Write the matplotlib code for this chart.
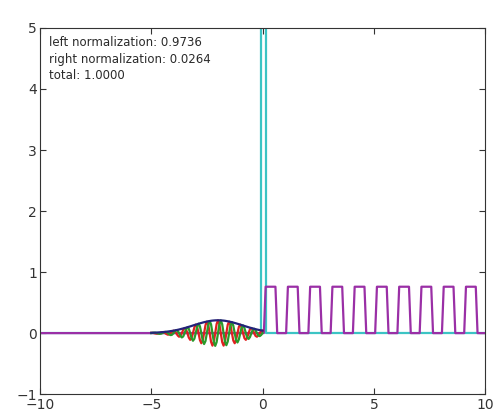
"""
wave packet hitting a thin barrier: psi(x) real/imag/abs, potential, transmitted part
"""

import numpy as np
import matplotlib.pyplot as plt

# sampling grid for the packet (step 1/16)
x_packet = np.arange(-5.0, 0.001, 0.0625)

# |psi|
psi_abs = [0.005, 0.006, 0.007, 0.008, 0.009, 0.011, 0.012, 0.014,
           0.016, 0.018, 0.020, 0.023, 0.026, 0.029, 0.033, 0.036,
           0.040, 0.045, 0.049, 0.054, 0.059, 0.065, 0.071, 0.077,
           0.083, 0.089, 0.096, 0.103, 0.110, 0.117, 0.125, 0.132,
           0.139, 0.146, 0.153, 0.160, 0.166, 0.173, 0.179, 0.184,
           0.189, 0.194, 0.198, 0.202, 0.205, 0.207, 0.209, 0.210,
           0.210,
           0.210, 0.209, 0.207, 0.205, 0.202, 0.198, 0.194, 0.189,
           0.184, 0.179, 0.173, 0.166, 0.160, 0.153, 0.146, 0.139,
           0.132, 0.125, 0.117, 0.110, 0.103, 0.096, 0.089, 0.083,
           0.077, 0.071, 0.065, 0.059, 0.054, 0.049, 0.045, 0.040]

psi_real = [0.005, 0.004, 0.0, -0.006, -0.009, -0.007, 0.0, 0.010,
            0.016, 0.013, 0.0, -0.016, -0.026, -0.021, 0.0, 0.026,
            0.040, 0.031, 0.0, -0.038, -0.059, -0.046, 0.0, 0.054,
            0.083, 0.063, 0.0, -0.073, -0.110, -0.083, 0.0, 0.093,
            0.139, 0.103, 0.0, -0.113, -0.166, -0.122, 0.0, 0.130,
            0.189, 0.137, 0.0, -0.143, -0.205, -0.146, 0.0, 0.148,
            0.210,
            0.148, 0.0, -0.146, -0.205, -0.143, 0.0, 0.137, 0.189,
            0.130, 0.0, -0.122, -0.166, -0.113, 0.0, 0.103, 0.139,
            0.093, 0.0, -0.083, -0.110, -0.073, 0.0, 0.063, 0.083,
            0.054, 0.0, -0.046, -0.059, -0.038, 0.0, 0.031, 0.040]

psi_imag = [0.0, 0.004, 0.007, 0.006, 0.0, -0.007, -0.012, -0.010,
            0.0, 0.013, 0.020, 0.016, 0.0, -0.021, -0.033, -0.026,
            0.0, 0.031, 0.049, 0.038, 0.0, -0.046, -0.071, -0.054,
            0.0, 0.063, 0.096, 0.073, 0.0, -0.083, -0.125, -0.093,
            0.0, 0.103, 0.153, 0.113, 0.0, -0.122, -0.179, -0.130,
            0.0, 0.137, 0.198, 0.143, 0.0, -0.146, -0.209, -0.148,
            0.0,
            0.148, 0.209, 0.146, 0.0, -0.143, -0.198, -0.137, 0.0,
            0.130, 0.179, 0.122, 0.0, -0.113, -0.153, -0.103, 0.0,
            0.093, 0.125, 0.083, 0.0, -0.073, -0.096, -0.063, 0.0,
            0.054, 0.071, 0.046, 0.0, -0.038, -0.049, -0.031, 0.0]

# barrier (potential, off the top of the plot)
barrier_left, barrier_right = -0.07, 0.15
barrier_height = 50.0

# square pulses on the right
pulse_starts = [0.06, 1.06, 2.06, 3.06, 4.06, 5.06, 6.06, 7.06, 8.06, 9.06]
pulse_height = 0.76

texts = ["left normalization: 0.9736",
         "right normalization: 0.0264",
         "total: 1.0000"]

# build the outlines
V_x = [-10, barrier_left, barrier_left, barrier_right, barrier_right, 10]
V_y = [0, 0, barrier_height, barrier_height, 0, 0]

sq_x = [-10]
sq_y = [0]
for s in pulse_starts:
    sq_x += [s, s + 0.08, s + 0.52, s + 0.6]
    sq_y += [0, pulse_height, pulse_height, 0]
sq_x.append(10)
sq_y.append(0)

fig = plt.figure(figsize=(4.93, 4.11), dpi=100)
ax = fig.add_axes([0.081, 0.041, 0.903, 0.891])

ax.plot(V_x, V_y, color='#3cc4c4', lw=1.6)
ax.plot(sq_x, sq_y, color='#9a2fa6', lw=1.6)
ax.plot(x_packet, psi_real, color='#e02020', lw=1.6)
ax.plot(x_packet, psi_imag, color='#2a9a2a', lw=1.6)
ax.plot(x_packet, psi_abs, color='#23237a', lw=1.6)

ax.set_xlim(-10, 10)
ax.set_ylim(-1, 5)
ax.set_xticks([-10, -5, 0, 5, 10])
ax.set_yticks([-1, 0, 1, 2, 3, 4, 5])
ax.tick_params(direction='in', top=True, right=True, length=4,
               labelsize=10, colors='#333333')
ax.tick_params(axis='x', pad=2.5)
ax.tick_params(axis='y', pad=2)
for sp in ax.spines.values():
    sp.set_color('#333333')

ax.text(0.02, 0.978, "\n".join(texts), transform=ax.transAxes,
        va='top', ha='left', fontsize=8.5, linespacing=1.35, color='#2a2a2a')

plt.savefig("out.png")
